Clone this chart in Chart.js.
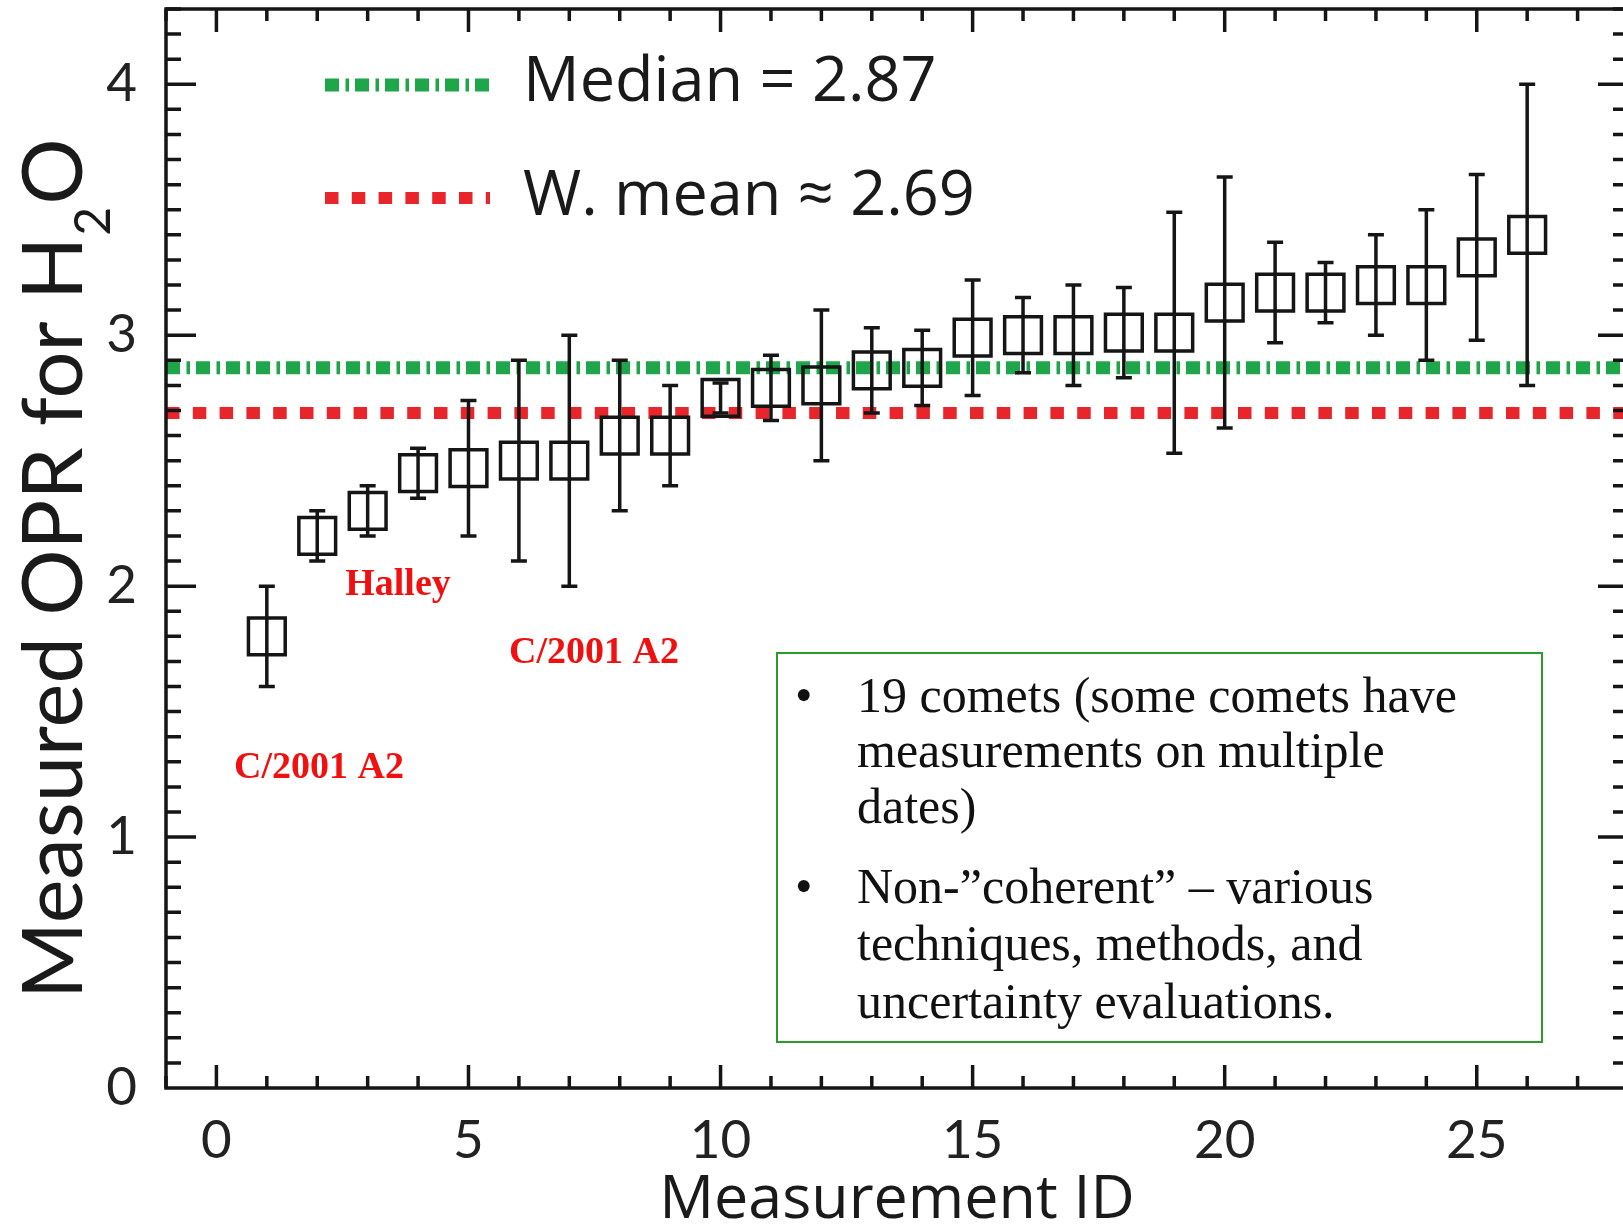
<!DOCTYPE html>
<html>
<head>
<meta charset="utf-8">
<script src="https://cdn.jsdelivr.net/npm/chart.js@4.4.1/dist/chart.umd.min.js"></script>
<style>
  html, body { margin: 0; padding: 0; background: #fff; overflow: hidden; }
  canvas { display: block; }
</style>
</head>
<body>
<canvas id="oprChart" width="1630" height="1227"></canvas>
<script>
// values
const measurementIds = [1, 2, 3, 4, 5, 6, 7, 8, 9, 10, 11, 12, 13, 14, 15, 16, 17, 18, 19, 20, 21, 22, 23, 24, 25, 26];
const oprValues = [1.80, 2.20, 2.30, 2.45, 2.47, 2.50, 2.50, 2.60, 2.60, 2.75, 2.79, 2.80, 2.86, 2.87, 2.99, 3.00, 3.00, 3.01, 3.01, 3.13, 3.17, 3.17, 3.20, 3.20, 3.31, 3.40];
const oprErrors = [0.20, 0.10, 0.10, 0.10, 0.27, 0.40, 0.50, 0.30, 0.20, 0.06, 0.13, 0.30, 0.17, 0.15, 0.23, 0.15, 0.20, 0.18, 0.48, 0.50, 0.20, 0.12, 0.20, 0.30, 0.33, 0.60];
const medianOpr = 2.87;
const weightedMeanOpr = 2.69;
const xTickValues = [0, 5, 10, 15, 20, 25];
const yTickValues = [0, 1, 2, 3, 4];
const xRange = [-1, 28];
const yRange = [0, 4.3];

const GREEN = '#1fa64a';
const RED = '#e8252b';
const INK = '#151515';

const bulletLines = [
  ['19 comets (some comets have', 'measurements on multiple', 'dates)'],
  ['Non-\u201dcoherent\u201d \u2013 various', 'techniques, methods, and', 'uncertainty evaluations.']
];

// error bars, inward ticks, frame, legend and notes
const decorations = {
  id: 'decorations',
  afterDatasetsDraw(chart) {
    const { ctx, scales: { x, y } } = chart;
    ctx.save();
    ctx.strokeStyle = INK;
    ctx.lineWidth = 3.5;
    measurementIds.forEach((id, i) => {
      const px = x.getPixelForValue(id);
      const top = y.getPixelForValue(oprValues[i] + oprErrors[i]);
      const bot = y.getPixelForValue(oprValues[i] - oprErrors[i]);
      ctx.beginPath();
      ctx.moveTo(px, top); ctx.lineTo(px, bot);
      ctx.moveTo(px - 8, top); ctx.lineTo(px + 8, top);
      ctx.moveTo(px - 8, bot); ctx.lineTo(px + 8, bot);
      ctx.stroke();
    });
    ctx.restore();
  },
  afterDraw(chart) {
    const { ctx, chartArea: a, scales: { x, y } } = chart;
    ctx.save();

    // frame + ticks on all four sides, pointing inward
    ctx.strokeStyle = INK;
    ctx.lineWidth = 3.5;
    ctx.strokeRect(a.left, a.top, a.right - a.left, a.bottom - a.top);
    ctx.beginPath();
    for (let v = Math.ceil(xRange[0]); v <= xRange[1]; v++) {
      const px = x.getPixelForValue(v);
      const len = v % 5 === 0 ? 23 : 12;
      ctx.moveTo(px, a.bottom); ctx.lineTo(px, a.bottom - len);
      ctx.moveTo(px, a.top); ctx.lineTo(px, a.top + len);
    }
    for (let k = 1; k <= Math.floor(yRange[1] * 10); k++) {
      const py = y.getPixelForValue(k / 10);
      const len = k % 10 === 0 ? 30 : 15;
      ctx.moveTo(a.left, py); ctx.lineTo(a.left + len, py);
      ctx.moveTo(a.right, py); ctx.lineTo(a.right - len, py);
    }
    ctx.stroke();

    // y title with a real subscript
    ctx.fillStyle = '#1a1a1a';
    ctx.save();
    ctx.translate(82, 999);
    ctx.rotate(-Math.PI / 2);
    ctx.textBaseline = 'alphabetic';
    ctx.textAlign = 'left';
    ctx.font = '83px Lato';
    const head = 'Measured OPR for H';
    ctx.fillText(head, 0, 0);
    let cx = ctx.measureText(head).width;
    ctx.font = '50px Lato';
    ctx.fillText('2', cx + 1, 28);
    cx += ctx.measureText('2').width + 3;
    ctx.font = '83px Lato';
    ctx.fillText('O', cx, 0);
    ctx.restore();

    // legend
    const rows = [
      { ds: chart.data.datasets[1], y: 85, base: 101 },
      { ds: chart.data.datasets[2], y: 198, base: 215 }
    ];
    rows.forEach(r => {
      ctx.strokeStyle = r.ds.borderColor;
      ctx.lineWidth = r.ds.borderWidth;
      ctx.setLineDash(r.ds.borderDash);
      ctx.beginPath();
      ctx.moveTo(325, r.y); ctx.lineTo(490, r.y);
      ctx.stroke();
      ctx.setLineDash([]);
      ctx.fillStyle = '#1a1a1a';
      ctx.font = '63px "Open Sans"';
      ctx.textBaseline = 'alphabetic';
      ctx.fillText(r.ds.label, 523, r.base);
    });

    // red comet notes
    ctx.fillStyle = '#f01010';
    ctx.font = 'bold 38px "Liberation Serif"';
    ctx.textAlign = 'center';
    ctx.textBaseline = 'middle';
    ctx.fillText('Halley', 398, 585);
    ctx.fillText('C/2001 A2', 594, 653);
    ctx.fillText('C/2001 A2', 319, 768);

    // note box
    ctx.fillStyle = '#fff';
    ctx.fillRect(777, 653, 765, 389);
    ctx.strokeStyle = '#2f9a2c';
    ctx.lineWidth = 2;
    ctx.strokeRect(777, 653, 765, 389);
    ctx.fillStyle = '#111';
    ctx.textAlign = 'left';
    ctx.textBaseline = 'alphabetic';
    ctx.font = '50px "Liberation Serif"';
    const baselines = [[712, 767, 823], [903, 960, 1018]];
    bulletLines.forEach((lines, b) => {
      ctx.fillText('\u2022', 795, baselines[b][0]);
      lines.forEach((t, j) => ctx.fillText(t, 857, baselines[b][j]));
    });

    ctx.restore();
  }
};

new Chart(document.getElementById('oprChart'), {
  type: 'scatter',
  data: {
    datasets: [
      {
        label: 'Measured OPR',
        data: measurementIds.map((id, i) => ({ x: id, y: oprValues[i] })),
        pointStyle: 'rect',
        pointRadius: 26,
        pointHoverRadius: 26,
        borderColor: INK,
        backgroundColor: 'rgba(0,0,0,0)',
        borderWidth: 3.5,
        order: 0
      },
      {
        label: `Median = ${medianOpr}`,
        type: 'line',
        data: xRange.map(v => ({ x: v, y: medianOpr })),
        borderColor: GREEN,
        borderWidth: 13,
        borderDash: [14, 6.5, 3.5, 6],
        pointRadius: 0,
        order: 2
      },
      {
        label: `W. mean \u2248 ${weightedMeanOpr}`,
        type: 'line',
        data: xRange.map(v => ({ x: v, y: weightedMeanOpr })),
        borderColor: RED,
        borderWidth: 12,
        borderDash: [13.5, 13.3],
        pointRadius: 0,
        order: 1
      }
    ]
  },
  options: {
    responsive: false,
    animation: false,
    layout: { autoPadding: false, padding: { top: 9, right: 2, left: 0, bottom: 0 } },
    plugins: { legend: { display: false }, tooltip: { enabled: false } },
    scales: {
      x: {
        type: 'linear',
        min: xRange[0],
        max: xRange[1],
        afterBuildTicks: s => { s.ticks = xTickValues.map(v => ({ value: v })); },
        afterFit: s => { s.height = 139; s.paddingLeft = 0; s.paddingRight = 0; },
        grid: { display: false },
        border: { display: false },
        ticks: { padding: 18, color: '#222', autoSkip: false, maxRotation: 0, font: { family: 'Lato', size: 53, lineHeight: 1 } },
        title: { display: true, text: 'Measurement ID', color: '#1a1a1a', padding: 0, font: { family: 'Open Sans', size: 61, lineHeight: 0.88 } }
      },
      y: {
        type: 'linear',
        min: yRange[0],
        max: yRange[1],
        afterBuildTicks: s => { s.ticks = yTickValues.map(v => ({ value: v })); },
        afterFit: s => { s.width = 166; s.paddingTop = 0; s.paddingBottom = 0; },
        grid: { display: false },
        border: { display: false },
        ticks: { padding: 21, color: '#222', font: { family: 'Lato', size: 53, lineHeight: 1 } }
      }
    }
  },
  plugins: [decorations]
});
</script>
</body>
</html>
